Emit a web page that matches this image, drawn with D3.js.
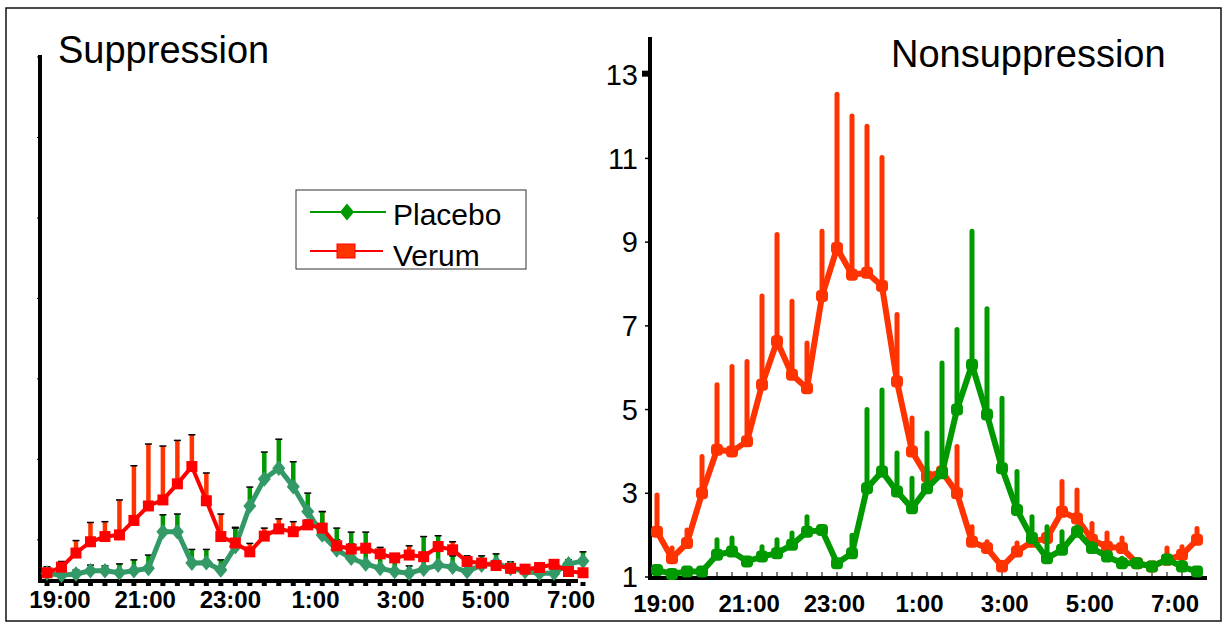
<!DOCTYPE html>
<html>
<head>
<meta charset="utf-8">
<script src="https://cdn.jsdelivr.net/npm/d3@7/dist/d3.min.js"></script>
<style>
body { margin: 0; background: #fff; }
svg { font-family: "Liberation Sans", Arial, sans-serif; }
</style>
</head>
<body>
<div id="chart"></div>
<script>
// left panel: every 20 min from 18:40, right panel from 19:00
const timesLeft = [];
for (let m = 18 * 60 + 40; m <= 31 * 60; m += 20) timesLeft.push(((Math.floor(m / 60)) % 24) + ":" + String(m % 60).padStart(2, "0"));
const timesRight = timesLeft.slice(1);
const tickLabels = ["19:00", "21:00", "23:00", "1:00", "3:00", "5:00", "7:00"];
const rightTicks = [1, 3, 5, 7, 9, 11, 13];

const supPlacebo = [1.17, 1.12, 1.15, 1.23, 1.23, 1.18, 1.23, 1.29, 2.20, 2.20, 1.42, 1.43, 1.25, 1.83, 2.84, 3.51, 3.78, 3.32, 2.70, 2.12,
    1.75, 1.54, 1.40, 1.29, 1.21, 1.17, 1.27, 1.37, 1.32, 1.21, 1.37, 1.42, 1.29, 1.21, 1.17, 1.17, 1.40, 1.47];
const supPlaceboTop = [1.20, 1.30, 1.25, 1.37, 1.35, 1.40, 1.50, 1.62, 2.62, 2.64, 1.76, 1.76, 1.50, 2.29, 3.31, 4.18, 4.50, 3.94, 3.16, 2.70,
    2.29, 2.19, 2.19, 1.81, 1.45, 1.35, 2.08, 2.10, 1.60, 1.60, 1.60, 1.65, 1.45, 1.35, 1.30, 1.30, 1.50, 1.70];
const supVerum = [1.18, 1.32, 1.67, 1.95, 2.08, 2.12, 2.48, 2.84, 2.99, 3.39, 3.82, 2.97, 2.08, 1.92, 1.70, 2.09, 2.27, 2.20, 2.37, 2.29,
    1.85, 1.77, 1.79, 1.65, 1.55, 1.62, 1.58, 1.83, 1.75, 1.46, 1.42, 1.36, 1.29, 1.27, 1.31, 1.39, 1.21, 1.18];
const supVerumTop = [1.33, 1.46, 1.98, 2.43, 2.45, 2.99, 3.84, 4.38, 4.33, 4.47, 4.61, 3.66, 2.64, 2.31, 1.91, 2.29, 2.52, 2.45, 2.49, 2.70,
    2.00, 1.90, 1.90, 1.75, 1.60, 1.85, 1.65, 1.95, 1.95, 1.52, 1.50, 1.42, 1.35, 1.32, 1.36, 1.45, 1.25, 1.25];

const nonPlacebo = [1.17, 1.07, 1.13, 1.13, 1.53, 1.61, 1.37, 1.49, 1.57, 1.77, 2.08, 2.12, 1.33, 1.57, 3.12, 3.52, 3.04, 2.64, 3.12,
    3.48, 5.00, 6.07, 4.88, 3.60, 2.60, 1.93, 1.45, 1.65, 2.08, 1.69, 1.49, 1.33, 1.33, 1.25, 1.42, 1.25, 1.13];
const nonPlaceboTop = [1.20, 1.10, 1.15, 1.15, 1.89, 1.93, 1.45, 1.72, 1.89, 2.05, 2.44, 2.20, 1.40, 2.00, 5.00, 5.47, 3.96, 3.36, 4.44,
    6.11, 6.91, 9.26, 7.41, 5.27, 3.52, 2.44, 2.20, 2.08, 2.20, 1.80, 1.60, 1.45, 1.40, 1.30, 1.45, 1.35, 1.20];
const nonVerum = [2.08, 1.45, 1.81, 3.00, 4.04, 4.00, 4.24, 5.59, 6.63, 5.83, 5.51, 7.71, 8.86, 8.22, 8.27, 7.95, 5.67, 4.00, 3.40,
    3.52, 3.00, 1.84, 1.69, 1.25, 1.61, 1.84, 1.93, 2.56, 2.40, 1.89, 1.72, 1.69, 1.33, 1.25, 1.41, 1.53, 1.89];
const nonVerumTop = [2.96, 1.69, 2.12, 3.88, 5.59, 6.03, 6.15, 7.71, 9.18, 7.59, 6.59, 9.26, 12.53, 12.01, 11.77, 11.02, 7.27, 4.80, 3.60,
    3.60, 4.12, 2.20, 1.84, 1.35, 1.81, 2.00, 2.00, 3.28, 3.08, 2.28, 2.05, 1.93, 1.40, 1.30, 1.69, 1.72, 2.16];

const svg = d3.select("#chart").append("svg").attr("width", 1227).attr("height", 626);

svg.append("rect").attr("x", 6).attr("y", 8).attr("width", 1215).attr("height", 613).
    attr("fill", "none").attr("stroke", "#111").attr("stroke-width", 1.5);

const diamond = { draw(ctx, size) { const h = Math.sqrt(size); ctx.moveTo(0, -h * 0.6); ctx.lineTo(h * 0.5, 0); ctx.lineTo(0, h * 0.6); ctx.lineTo(-h * 0.5, 0); ctx.closePath(); } };

function rows(times, vals, tops) {
    return times.map((t, i) => ({ t: t, v: vals[i], top: tops[i] }));
}

// ---------- left panel: Suppression ----------
const xL = d3.scalePoint().domain(timesLeft).range([47, 583]);
const yL = d3.scaleLinear().domain([1, 14]).range([580, 57]);
const labL = d3.scalePoint().domain(tickLabels).range([60, 571]);
const left = svg.append("g");

left.append("line").attr("x1", 40).attr("x2", 40).attr("y1", 55).attr("y2", 582).attr("stroke", "#000").attr("stroke-width", 4);
left.selectAll(".yt").data(d3.range(2, 15, 2)).join("line").
    attr("x1", 37).attr("x2", 40).attr("y1", d => yL(d)).attr("y2", d => yL(d)).attr("stroke", "#000").attr("stroke-width", 1);
left.append("line").attr("x1", 38).attr("x2", 578).attr("y1", 581).attr("y2", 581).attr("stroke", "#000").attr("stroke-width", 4);
left.selectAll(".xt").data(timesLeft).join("line").
    attr("x1", d => xL(d)).attr("x2", d => xL(d)).attr("y1", 582).attr("y2", 586).attr("stroke", "#000").attr("stroke-width", 5);
left.selectAll(".xl").data(tickLabels).join("text").
    attr("x", d => labL(d)).attr("y", 608).attr("text-anchor", "middle").
    attr("font-size", 24).attr("font-weight", "bold").text(d => d);
left.append("text").attr("x", 58).attr("y", 63).attr("font-size", 38).text("Suppression");

const supV = rows(timesLeft, supVerum, supVerumTop);
const supP = rows(timesLeft, supPlacebo, supPlaceboTop);

function errBars(g, data, x, y, color, width, cap) {
    g.selectAll(null).data(data).join("line").
        attr("x1", d => x(d.t)).attr("x2", d => x(d.t)).attr("y1", d => y(d.v)).attr("y2", d => y(d.top)).
        attr("stroke", color).attr("stroke-width", width).attr("stroke-linecap", cap ? "butt" : "round");
    if (cap) {
        g.selectAll(null).data(data.filter(d => d.top - d.v > 0.08)).join("line").
            attr("x1", d => x(d.t) - 3.5).attr("x2", d => x(d.t) + 3.5).attr("y1", d => y(d.top)).attr("y2", d => y(d.top)).
            attr("stroke", "#000").attr("stroke-width", 1.5);
    }
}

errBars(left, supV, xL, yL, "#ff3300", 4.5, true);
errBars(left, supP, xL, yL, "#009900", 4.5, true);

left.append("path").datum(supP).attr("fill", "none").attr("stroke", "#339966").attr("stroke-width", 5).
    attr("stroke-linejoin", "round").attr("d", d3.line().x(d => xL(d.t)).y(d => yL(d.v)));
left.selectAll(".pm").data(supP).join("path").
    attr("transform", d => "translate(" + xL(d.t) + "," + yL(d.v) + ")").
    attr("d", d3.symbol(diamond, 170)).attr("fill", "#339966");
left.append("path").datum(supV).attr("fill", "none").attr("stroke", "#ff0000").attr("stroke-width", 4).
    attr("stroke-linejoin", "round").attr("d", d3.line().x(d => xL(d.t)).y(d => yL(d.v)));
left.selectAll(".vm").data(supV).join("rect").
    attr("x", d => xL(d.t) - 5.5).attr("y", d => yL(d.v) - 5.5).attr("width", 11).attr("height", 11).attr("fill", "#ff0000");

// legend
const legend = svg.append("g");
legend.append("rect").attr("x", 296).attr("y", 190).attr("width", 230).attr("height", 79).
    attr("fill", "#fff").attr("stroke", "#333").attr("stroke-width", 1);
legend.append("line").attr("x1", 310).attr("x2", 386).attr("y1", 212).attr("y2", 212).attr("stroke", "#009900").attr("stroke-width", 2);
legend.append("path").attr("transform", "translate(347,212)").attr("d", d3.symbol(diamond, 200)).attr("fill", "#009900");
legend.append("line").attr("x1", 310).attr("x2", 383).attr("y1", 251).attr("y2", 251).attr("stroke", "#ff0000").attr("stroke-width", 2);
legend.append("rect").attr("x", 337).attr("y", 244).attr("width", 18).attr("height", 14).
    attr("fill", "#ff3300").attr("stroke", "#ff0000").attr("stroke-width", 1);
legend.append("text").attr("x", 393).attr("y", 225).attr("font-size", 30).text("Placebo");
legend.append("text").attr("x", 393).attr("y", 266).attr("font-size", 30).text("Verum");

// ---------- right panel: Nonsuppression ----------
const xR = d3.scalePoint().domain(timesRight).range([657, 1197]);
const yR = d3.scaleLinear().domain([1, 13.9]).range([577, 37]);
const labR = d3.scalePoint().domain(tickLabels).range([664, 1175]);
const right = svg.append("g");

right.append("line").attr("x1", 650).attr("x2", 650).attr("y1", 37).attr("y2", 579).attr("stroke", "#000").attr("stroke-width", 4);
right.selectAll(".yt").data(rightTicks).join("line").
    attr("x1", 645).attr("x2", 650).attr("y1", d => yR(d)).attr("y2", d => yR(d)).attr("stroke", "#000").attr("stroke-width", 1.5);
right.append("rect").attr("x", 642).attr("y", yR(13) - 4).attr("width", 8).attr("height", 6).attr("fill", "#000");
right.selectAll(".yl").data(rightTicks).join("text").
    attr("x", 638).attr("y", d => yR(d)).attr("dy", "0.35em").attr("text-anchor", "end").attr("font-size", 29).text(d => d);
right.append("line").attr("x1", 648).attr("x2", 1207).attr("y1", 578).attr("y2", 578).attr("stroke", "#000").attr("stroke-width", 4);
right.selectAll(".xt").data(timesRight).join("line").
    attr("x1", d => xR(d)).attr("x2", d => xR(d)).attr("y1", 572).attr("y2", 577).attr("stroke", "#000").attr("stroke-width", 1);
right.selectAll(".xl").data(tickLabels).join("text").
    attr("x", d => labR(d)).attr("y", 612).attr("text-anchor", "middle").
    attr("font-size", 24).attr("font-weight", "bold").text(d => d);
right.append("text").attr("x", 891).attr("y", 67).attr("font-size", 38).text("Nonsuppression");

const nonV = rows(timesRight, nonVerum, nonVerumTop);
const nonP = rows(timesRight, nonPlacebo, nonPlaceboTop);

function panelSeries(data, color) {
    errBars(right, data, xR, yR, color, 5, false);
    right.append("path").datum(data).attr("fill", "none").attr("stroke", color).attr("stroke-width", 6).
        attr("stroke-linejoin", "round").attr("d", d3.line().x(d => xR(d.t)).y(d => yR(d.v)));
    right.selectAll(null).data(data).join("rect").
        attr("x", d => xR(d.t) - 6).attr("y", d => yR(d.v) - 6).attr("width", 12).attr("height", 12).
        attr("rx", 4).attr("fill", color);
}
panelSeries(nonV, "#ff3300");
panelSeries(nonP, "#009900");
</script>
</body>
</html>
